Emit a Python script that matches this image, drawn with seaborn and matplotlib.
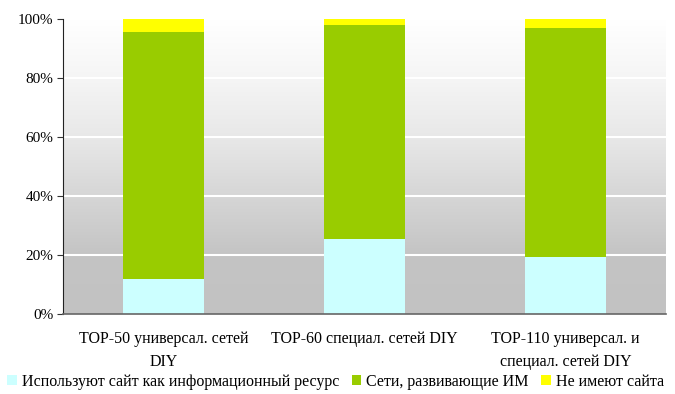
import matplotlib
matplotlib.use('Agg')
import matplotlib.pyplot as plt
import numpy as np
import pandas as pd
import seaborn as sns
from matplotlib.colors import LinearSegmentedColormap
from matplotlib.patches import Patch
from matplotlib.ticker import FixedLocator, PercentFormatter

# data (shares, %)
categories = ['TOP-50 универсал. сетей\nDIY',
              'TOP-60 специал. сетей DIY',
              'TOP-110 универсал. и\nспециал. сетей DIY']
info_site = [12.0, 25.4, 19.3]
online_shop = [83.6, 72.6, 77.7]
no_site = [4.4, 2.0, 3.0]
series_names = ['Используют сайт как информационный ресурс',
                'Сети, развивающие ИМ',
                'Не имеют сайта']
colors = ['#ccffff', '#99cc00', '#ffff00']

sns.set_style('white')
plt.rcParams['font.family'] = ['Liberation Serif', 'DejaVu Serif']
plt.rcParams['text.color'] = 'black'

df = pd.DataFrame({'category': categories, 'info': info_site,
                   'shop': online_shop, 'none': no_site})
df['c1'] = df['info']
df['c2'] = df['c1'] + df['shop']
df['c3'] = df['c2'] + df['none']

fig = plt.figure(figsize=(6.75, 3.94), dpi=100)
ax = fig.add_axes([63 / 675, 1 - 314 / 394, 603 / 675, 295 / 394])

# gradient plot background
grad = LinearSegmentedColormap.from_list(
    'bg', [(0.0, '#c2c2c2'), (0.2, '#c4c4c4'), (0.4, '#d6d6d6'),
           (0.6, '#e8e8e8'), (0.8, '#f5f5f5'), (1.0, '#ffffff')])
ax.imshow(np.linspace(0, 1, 256).reshape(-1, 1), cmap=grad, aspect='auto',
          origin='lower', extent=[0, 1, 0, 1], transform=ax.transAxes, zorder=0)

for y in [20, 40, 60, 80]:
    ax.axhline(y, color='white', lw=1.5, zorder=1)

for col, color in zip(['c3', 'c2', 'c1'], colors[::-1]):
    sns.barplot(data=df, x='category', y=col, color=color, width=0.4,
                saturation=1, linewidth=0, edgecolor='none', ax=ax, zorder=2)

ax.set_xlim(-0.5, 2.5)
ax.set_ylim(0, 100)
ax.set_xlabel('')
ax.set_ylabel('')
ax.yaxis.set_major_locator(FixedLocator([0, 20, 40, 60, 80, 100]))
ax.yaxis.set_major_formatter(PercentFormatter(decimals=0))
ax.xaxis.set_minor_locator(FixedLocator([-0.5, 0.5, 1.5, 2.5]))
ax.tick_params(axis='x', which='major', length=0, pad=12, labelsize=11.5,
               labelcolor='black')
ax.tick_params(axis='x', which='minor', length=4, direction='out', color='#333333')
ax.tick_params(axis='y', length=4, direction='out', labelsize=11, pad=3,
               left=True, color='#333333', labelcolor='black')
for lab in ax.get_xticklabels():
    lab.set_linespacing(1.65)

for side in ['top', 'right']:
    ax.spines[side].set_visible(False)
ax.spines['left'].set_color('#222222')
ax.spines['bottom'].set_color('#666666')
ax.spines['bottom'].set_linewidth(1.2)

handles = [Patch(facecolor=c, edgecolor='none') for c in colors]
fig.legend(handles, series_names, loc='center', bbox_to_anchor=(0.497, 1 - 382 / 394),
           ncol=3, frameon=False, fontsize=11.5, handlelength=0.6, handleheight=0.6,
           handletextpad=0.3, columnspacing=0.8, borderaxespad=0)

plt.savefig('out.png', dpi=100)
plt.close()
